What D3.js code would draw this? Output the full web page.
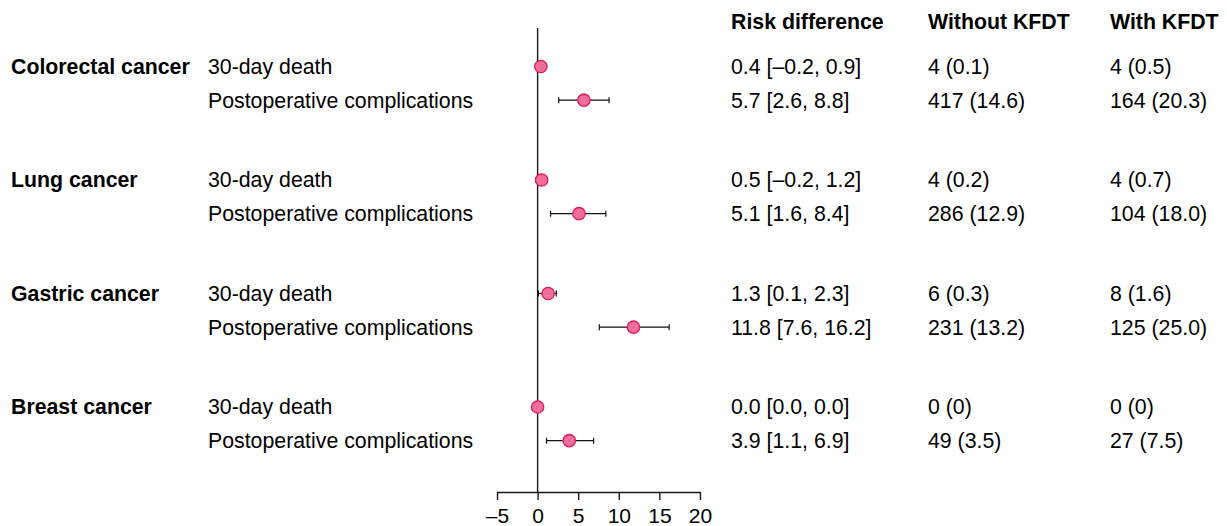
<!DOCTYPE html>
<html>
<head>
<meta charset="utf-8">
<script src="https://cdn.jsdelivr.net/npm/d3@7"></script>
<style>
  body { margin: 0; background: #fff; }
  text { font-family: "Liberation Sans", Arial, sans-serif; fill: #000; }
</style>
</head>
<body>
<div id="chart"></div>
<script>
const cancers = ["Colorectal cancer", "Lung cancer", "Gastric cancer", "Breast cancer"];
const outcomes = ["30-day death", "Postoperative complications"];
const headers = ["Risk difference", "Without KFDT", "With KFDT"];

// risk difference, lower CI, upper CI  (per cancer, per outcome)
const riskDiff = [[0.4, 5.7], [0.5, 5.1], [1.3, 11.8], [0.0, 3.9]];
const ciLow = [[-0.2, 2.6], [-0.2, 1.6], [0.1, 7.6], [0.0, 1.1]];
const ciHigh = [[0.9, 8.8], [1.2, 8.4], [2.3, 16.2], [0.0, 6.9]];

const withoutKFDT = [["4 (0.1)", "417 (14.6)"], ["4 (0.2)", "286 (12.9)"], ["6 (0.3)", "231 (13.2)"], ["0 (0)", "49 (3.5)"]];
const withKFDT = [["4 (0.5)", "164 (20.3)"], ["4 (0.7)", "104 (18.0)"], ["8 (1.6)", "125 (25.0)"], ["0 (0)", "27 (7.5)"]];

const xTicks = [-5, 0, 5, 10, 15, 20];

const fmt = v => v.toFixed(1).replace("-", "\u2013");

const rows = [];
cancers.forEach((c, g) => {
  outcomes.forEach((o, i) => {
    rows.push({
      cancer: c, outcome: o, g: g, i: i,
      rd: riskDiff[g][i], lo: ciLow[g][i], hi: ciHigh[g][i],
      without: withoutKFDT[g][i], with: withKFDT[g][i]
    });
  });
});

const width = 1227, height = 526;
const fs = 21.3;
const svg = d3.select("#chart").append("svg")
  .attr("width", width).attr("height", height);

const x = d3.scaleLinear().domain([-5, 20]).range([497, 700]);
const yGroup = d3.scaleLinear().domain([0, 3]).range([66.5, 407]);
const rowGap = 33.7;
const yRow = d => yGroup(d.g) + d.i * rowGap;
const axisY = 492;

// zero line
svg.append("line")
  .attr("x1", x(0)).attr("x2", x(0))
  .attr("y1", 28).attr("y2", axisY)
  .attr("stroke", "#1a1a1a").attr("stroke-width", 1.4);

// axis
const axis = svg.append("g")
  .attr("transform", `translate(0,${axisY})`)
  .call(d3.axisBottom(x).tickValues(xTicks).tickSize(8).tickSizeOuter(0)
    .tickFormat(d => String(d).replace("-", "\u2013")));
axis.select(".domain").attr("stroke", "#1a1a1a").attr("stroke-width", 1.4);
axis.selectAll(".tick line").attr("stroke", "#1a1a1a").attr("stroke-width", 1.4);
axis.selectAll(".tick text")
  .attr("y", 16)
  .attr("font-size", 21)
  .attr("font-family", "Liberation Sans, Arial, sans-serif")
  .attr("fill", "#000");

// headers
const colX = [731, 928, 1110];
svg.selectAll(".hdr").data(headers).enter().append("text")
  .attr("x", (d, i) => colX[i]).attr("y", 22)
  .attr("dy", "0.35em")
  .attr("font-size", fs).attr("font-weight", "bold")
  .text(d => d);

// cancer labels
svg.selectAll(".cancer").data(cancers).enter().append("text")
  .attr("x", 11).attr("y", (d, g) => yGroup(g))
  .attr("dy", "0.35em")
  .attr("font-size", fs).attr("font-weight", "bold")
  .text(d => d);

// outcome labels
svg.selectAll(".outcome").data(rows).enter().append("text")
  .attr("x", 208).attr("y", yRow).attr("dy", "0.35em")
  .attr("font-size", fs)
  .text(d => d.outcome);

// table values
svg.selectAll(".rdtxt").data(rows).enter().append("text")
  .attr("x", colX[0]).attr("y", yRow).attr("dy", "0.35em")
  .attr("font-size", fs)
  .text(d => `${fmt(d.rd)} [${fmt(d.lo)}, ${fmt(d.hi)}]`);
svg.selectAll(".wo").data(rows).enter().append("text")
  .attr("x", colX[1]).attr("y", yRow).attr("dy", "0.35em")
  .attr("font-size", fs)
  .text(d => d.without);
svg.selectAll(".wi").data(rows).enter().append("text")
  .attr("x", colX[2]).attr("y", yRow).attr("dy", "0.35em")
  .attr("font-size", fs)
  .text(d => d.with);

// error bars
const bars = svg.selectAll(".ci").data(rows.filter(d => d.hi > d.lo)).enter().append("g")
  .attr("stroke", "#111").attr("stroke-width", 1.2);
bars.append("line")
  .attr("x1", d => x(d.lo)).attr("x2", d => x(d.hi))
  .attr("y1", yRow).attr("y2", yRow);
bars.append("line")
  .attr("x1", d => x(d.lo)).attr("x2", d => x(d.lo))
  .attr("y1", d => yRow(d) - 3).attr("y2", d => yRow(d) + 3);
bars.append("line")
  .attr("x1", d => x(d.hi)).attr("x2", d => x(d.hi))
  .attr("y1", d => yRow(d) - 3).attr("y2", d => yRow(d) + 3);

// points
svg.selectAll(".pt").data(rows).enter().append("circle")
  .attr("cx", d => x(d.rd)).attr("cy", yRow)
  .attr("r", 6.2)
  .attr("fill", "#ef6f98")
  .attr("stroke", "#e2175a")
  .attr("stroke-width", 1.3);
</script>
</body>
</html>
